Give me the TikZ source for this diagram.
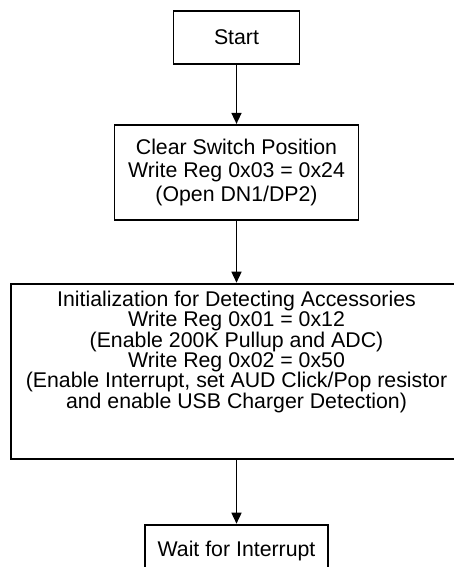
\documentclass[tikz,border=0pt]{standalone}
\usepackage{fontspec}
\setmainfont{Liberation Sans}
\usetikzlibrary{positioning,arrows.meta}
\setlength{\lineskiplimit}{-30pt}

\begin{document}
\begin{tikzpicture}[
    procbox/.style={draw, line width=1.8pt, align=center, inner sep=4pt,
      font=\fontsize{21.3}{23.3}\selectfont},
    flow/.style={-{Triangle[length=11pt,width=10pt]}, line width=1.5pt},
  ]

  \useasboundingbox (0,0) rectangle (453pt,-567pt);

  % Define nodes
  \node[procbox, minimum width=126pt, minimum height=53pt] at (236.5pt,-37.5pt) (start) {Start};
  \node[procbox, below=59pt of start, minimum width=244pt, minimum height=95pt] (clear)
    {Clear Switch Position\\Write Reg 0x03 = 0x24\\(Open DN1/DP2)};
  \node[procbox, below=62pt of clear, minimum width=451pt, inner ysep=0pt,
        text height=124.6pt, text depth=50.6pt,
        font=\fontsize{21.3}{20.4}\selectfont] (init)
    {Initialization for Detecting Accessories\\Write Reg 0x01 = 0x12\\(Enable 200K Pullup and ADC)\\%
     Write Reg 0x02 = 0x50\\(Enable Interrupt, set AUD Click/Pop resistor\\and enable USB Charger Detection)};
  \node[procbox, below=64pt of init, minimum width=183pt, minimum height=53pt] (wait) {Wait for Interrupt};

  % Connect the nodes
  \draw[flow] (start) -- (clear);
  \draw[flow] (clear) -- (init);
  \draw[flow] (init) -- (wait);

\end{tikzpicture}
\end{document}
